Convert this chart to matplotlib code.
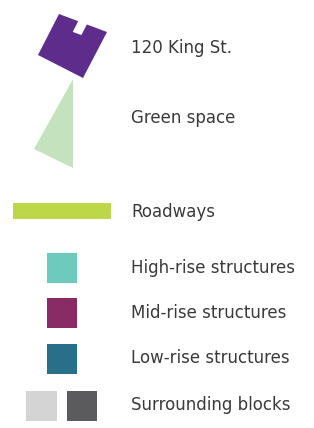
import matplotlib
matplotlib.use("Agg")
import matplotlib.pyplot as plt
from matplotlib.patches import Polygon, Rectangle
import numpy as np

labels = ["120 King St.", "Green space", "Roadways", "High-rise structures",
          "Mid-rise structures", "Low-rise structures", "Surrounding blocks"]
label_y = [48, 118, 212, 268, 313, 358, 405]
colors = {
    "king": "#5e2d8c",
    "green": "#c3e2bd",
    "road": "#bdd748",
    "high": "#6dcabd",
    "mid": "#892b65",
    "low": "#2a6f8a",
    "surr_light": "#d5d4d5",
    "surr_dark": "#5b5a5c",
}

W, H = 314, 428
fig = plt.figure(figsize=(W / 100, H / 100), dpi=100)
ax = fig.add_axes([0, 0, 1, 1])
ax.set_xlim(0, W)
ax.set_ylim(H, 0)
ax.axis("off")

# 120 King St. shape (rotated square with notch)
A = np.array([59, 14.0]); B = np.array([107, 32.0])
C = np.array([83, 78.0]); D = np.array([38, 55.0])
d = (D - A) / np.linalg.norm(D - A) * 12
P1 = A + 0.40 * (B - A); P2 = A + 0.58 * (B - A)
king = [A, P1, P1 + d, P2 + d, P2, B, C, D]
ax.add_patch(Polygon(king, closed=True, facecolor=colors["king"], edgecolor="none"))

# Green space triangle
ax.add_patch(Polygon([(73, 79), (34, 149), (73, 168)], closed=True,
                     facecolor=colors["green"], edgecolor="none"))

# Roadway bar
ax.add_patch(Rectangle((13, 203), 98, 16, facecolor=colors["road"], edgecolor="none"))

# Squares
for key, y in [("high", 253), ("mid", 298), ("low", 344)]:
    ax.add_patch(Rectangle((47, y), 30, 30, facecolor=colors[key], edgecolor="none"))
ax.add_patch(Rectangle((26, 391), 31, 30, facecolor=colors["surr_light"], edgecolor="none"))
ax.add_patch(Rectangle((67, 391), 30, 30, facecolor=colors["surr_dark"], edgecolor="none"))

for lab, y in zip(labels, label_y):
    ax.text(131, y, lab, fontsize=12, color="#3a3a3a", va="center", ha="left",
            family=["DejaVu Sans"])

fig.savefig("out.png", dpi=100)
